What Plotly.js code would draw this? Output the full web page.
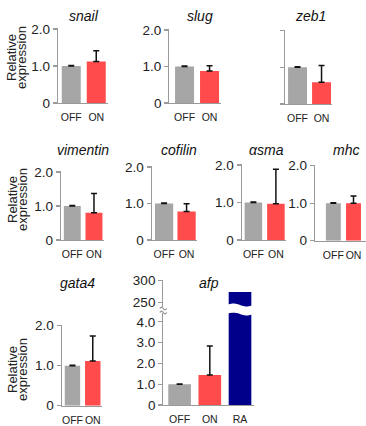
<!DOCTYPE html>
<html>
<head>
<meta charset="utf-8">
<script src="https://cdn.plot.ly/plotly-3.0.1.min.js"></script>
<style>
  html, body { margin: 0; padding: 0; background: #fff; }
  #chart { width: 366px; height: 426px; }
</style>
</head>
<body>
<div id="chart"></div>
<script>
// Relative expression of marker genes, OFF vs ON (afp also with RA)
const genes = ['snail', 'slug', 'zeb1', 'vimentin', 'cofilin', 'αsma', 'mhc', 'gata4', 'afp'];
const conditions = ['OFF', 'ON'];
const offMean = [1, 1, 1, 1, 1, 1, 1, 1, 1];
const offErr = [0.012, 0.012, 0.012, 0.012, 0.012, 0.012, 0.012, 0.012, 0.012];
const onMean = [1.12, 0.88, 0.59, 0.80, 0.78, 0.97, 1.00, 1.12, 1.44];
const onErr = [0.29, 0.14, 0.46, 0.57, 0.21, 0.92, 0.19, 0.62, 1.40];
const raLabel = 'RA';
const raMean = 274;
const smallTicks = [0, 1, 2];
const smallTickText = ['0', '1.0', '2.0'];
const afpLowTicks = [0, 1, 2, 3, 4];
const afpLowTickText = ['0', '1.0', '2.0', '3.0', '4.0'];
const afpHighTicks = [250, 300];
const afpHighTickText = ['250', '300'];

const W = 366, H = 426;
const GRAY = '#a6a6a6', RED = '#ff4b4b', NAVY = '#00008b';
const AXIS = '#9a9a9a';
const FONT = 'Liberation Sans, Arial, sans-serif';

// pixel frame of each small panel: axis x, zero line y, px per unit,
// px per category, left offset / right pad (category units), bar width
const frames = [
  { ax: 58,    y0: 103,   ppu: 37,   step: 25,   off: 0.53, pad: 0.47, bw: 0.76, tx: 84,    ty: 16,  labels: true },
  { ax: 169.3, y0: 103,   ppu: 36.5, step: 25,   off: 0.61, pad: 0.45, bw: 0.76, tx: 200,   ty: 16,  labels: true },
  { ax: 285.3, y0: 104,   ppu: 36.7, step: 24,   off: 0.51, pad: 0.45, bw: 0.79, tx: 310.5, ty: 16,  labels: false },
  { ax: 61,    y0: 240,   ppu: 34,   step: 21.7, off: 0.52, pad: 0.45, bw: 0.78, tx: 82.5,  ty: 150, labels: true },
  { ax: 151.7, y0: 240,   ppu: 36.5, step: 22.5, off: 0.55, pad: 0.45, bw: 0.81, tx: 179,   ty: 150, labels: true },
  { ax: 241.7, y0: 240,   ppu: 37.5, step: 22.5, off: 0.52, pad: 0.45, bw: 0.78, tx: 266,   ty: 150, labels: true },
  { ax: 315,   y0: 240.7, ppu: 37.5, step: 23,   off: 0.91, pad: 0.62, bw: 0.74, tx: 345.5, ty: 150, labels: true },
  { ax: 61.7,  y0: 405.7, ppu: 40,   step: 20.3, off: 0.53, pad: 0.45, bw: 0.76, tx: 77.5,  ty: 283, labels: true }
];
const YMAX = 2.02;

const fx = p => p / W;
const fy = p => 1 - p / H;

const data = [];
const layout = {
  width: W, height: H,
  margin: { l: 0, r: 0, t: 0, b: 0 },
  paper_bgcolor: '#fff', plot_bgcolor: 'rgba(0,0,0,0)',
  showlegend: false,
  font: { family: FONT, color: '#222' },
  annotations: [],
  shapes: []
};

function xAxisStyle(domain, range) {
  return {
    domain, range, type: 'category', fixedrange: true,
    showline: true, linecolor: AXIS, linewidth: 1.2,
    ticks: '', showgrid: false, zeroline: false,
    tickangle: 0, automargin: false,
    tickfont: { size: 10.5, family: FONT, color: '#222' },
    ticklabelstandoff: 4
  };
}
function yAxisStyle(domain, range, anchor, tickvals, ticktext, showLabels) {
  return {
    domain, range, anchor, fixedrange: true,
    showline: true, linecolor: AXIS, linewidth: 1.2,
    ticks: 'outside', ticklen: 4, tickwidth: 1.2, tickcolor: AXIS,
    tickvals, ticktext, showticklabels: showLabels,
    showgrid: false, zeroline: false, automargin: false,
    tickfont: { size: 13.5, family: FONT, color: '#222' }
  };
}
function errStyle(arr) {
  return {
    type: 'data', symmetric: false, array: arr, arrayminus: arr.map(() => 0),
    color: '#111', thickness: 1.5, width: 3
  };
}
function title(text, px, py) {
  layout.annotations.push({
    text, x: fx(px), y: fy(py), xref: 'paper', yref: 'paper',
    xanchor: 'center', yanchor: 'middle', showarrow: false,
    font: { size: 14, family: FONT, color: '#111', style: 'italic' }
  });
}

// small OFF/ON panels
frames.forEach((f, i) => {
  const n = i + 1;
  const xr = [-f.off, 1 + f.pad];
  const x1 = f.ax + (xr[1] - xr[0]) * f.step;
  const yTop = f.y0 - YMAX * f.ppu;
  layout['xaxis' + n] = xAxisStyle([fx(f.ax), Math.min(1, fx(x1))], xr);
  layout['xaxis' + n].anchor = 'y' + n;
  layout['yaxis' + n] = yAxisStyle([fy(f.y0), fy(yTop)], [0, YMAX], 'x' + n,
    smallTicks, smallTickText, f.labels);
  data.push({
    type: 'bar', x: conditions, y: [offMean[i], onMean[i]],
    xaxis: 'x' + n, yaxis: 'y' + n, width: f.bw,
    marker: { color: [GRAY, RED], line: { width: 0 } },
    error_y: errStyle([offErr[i], onErr[i]]),
    hoverinfo: 'skip'
  });
  title(genes[i], f.tx, f.ty);
});

// afp panel with a broken y axis
const afpCats = conditions.concat([raLabel]);
const afp = { ax: 163.3, step: 30.2, off: 0.54, pad: 0.45, bw: 0.75,
              lowY0: 405, lowPpu: 20.8, lowTop: 312.5,
              hiY250: 302.3, hiPpu: 21.6 / 50, hiTop: 280, hiBottom: 307 };
const ai = genes.indexOf('afp');
const afpXr = [-afp.off, 2 + afp.pad];
const afpX1 = afp.ax + (afpXr[1] - afpXr[0]) * afp.step;
const lowMax = (afp.lowY0 - afp.lowTop) / afp.lowPpu;
const hiMax = 250 + (afp.hiY250 - afp.hiTop) / afp.hiPpu;
const hiMin = 250 - (afp.hiBottom - afp.hiY250) / afp.hiPpu;

layout.xaxis9 = xAxisStyle([fx(afp.ax), fx(afpX1)], afpXr);
layout.xaxis9.anchor = 'y9';
layout.yaxis9 = yAxisStyle([fy(afp.lowY0), fy(afp.lowTop)], [0, lowMax], 'x9',
  afpLowTicks, afpLowTickText, true);
layout.xaxis10 = xAxisStyle([fx(afp.ax), fx(afpX1)], afpXr);
Object.assign(layout.xaxis10, { anchor: 'y10', showline: false, showticklabels: false });
layout.yaxis10 = yAxisStyle([fy(afp.hiBottom), fy(afp.hiTop)], [hiMin, hiMax], 'x10',
  afpHighTicks, afpHighTickText, true);

const afpVals = [offMean[ai], onMean[ai], raMean];
data.push({
  type: 'bar', x: afpCats, y: afpVals, xaxis: 'x9', yaxis: 'y9', width: afp.bw,
  marker: { color: [GRAY, RED, NAVY], line: { width: 0 } },
  error_y: errStyle([offErr[ai], onErr[ai], 0]), hoverinfo: 'skip'
});
data.push({
  type: 'bar', x: afpCats, y: afpVals, xaxis: 'x10', yaxis: 'y10', width: afp.bw,
  marker: { color: [GRAY, RED, NAVY], line: { width: 0 } }, hoverinfo: 'skip'
});
title(genes[ai], 209, 283);

// wavy white break across the RA bar
function wavePath(xa, xb, yTopEdge, yBotEdge, amp) {
  const pts = [];
  const steps = 24;
  for (let k = 0; k <= steps; k++) {
    const x = xa + (xb - xa) * k / steps;
    pts.push([x, yTopEdge - amp * Math.sin(2 * Math.PI * k / steps)]);
  }
  for (let k = steps; k >= 0; k--) {
    const x = xa + (xb - xa) * k / steps;
    pts.push([x, yBotEdge - amp * Math.sin(2 * Math.PI * k / steps)]);
  }
  return 'M' + pts.map(p => fx(p[0]).toFixed(5) + ',' + fy(p[1]).toFixed(5)).join('L') + 'Z';
}
const raCenter = afp.ax + (2 + afp.off) * afp.step;
const raHalf = afp.bw * afp.step / 2;
layout.shapes.push({
  type: 'path', xref: 'paper', yref: 'paper', layer: 'above',
  path: wavePath(raCenter - raHalf - 2, raCenter + raHalf + 2, 305, 314, 1.5),
  fillcolor: '#fff', line: { width: 0 }
});

// small tildes at the ends of the broken axis
function tilde(cx, cy, w, a) {
  const pts = [];
  for (let k = 0; k <= 12; k++) {
    const x = cx - w / 2 + w * k / 12;
    pts.push([x, cy - a * Math.sin(2 * Math.PI * k / 12)]);
  }
  return 'M' + pts.map(p => fx(p[0]).toFixed(5) + ',' + fy(p[1]).toFixed(5)).join('L');
}
[afp.hiBottom + 1.5, afp.lowTop].forEach(cy => {
  layout.shapes.push({
    type: 'path', xref: 'paper', yref: 'paper', layer: 'above',
    path: tilde(afp.ax, cy, 7, 1.3),
    line: { color: AXIS, width: 1.2 }
  });
});

// shared y-axis titles, one per row
function yTitle(py) {
  [['Relative', 12], ['expression', 22]].forEach(([t, px]) => {
    layout.annotations.push({
      text: t, x: fx(px), y: fy(py), xref: 'paper', yref: 'paper',
      xanchor: 'center', yanchor: 'middle', textangle: -90, showarrow: false,
      font: { size: 13, family: FONT, color: '#222' }
    });
  });
}
[58, 200, 370].forEach(yTitle);

Plotly.newPlot('chart', data, layout, { staticPlot: true, displayModeBar: false });
</script>
</body>
</html>
